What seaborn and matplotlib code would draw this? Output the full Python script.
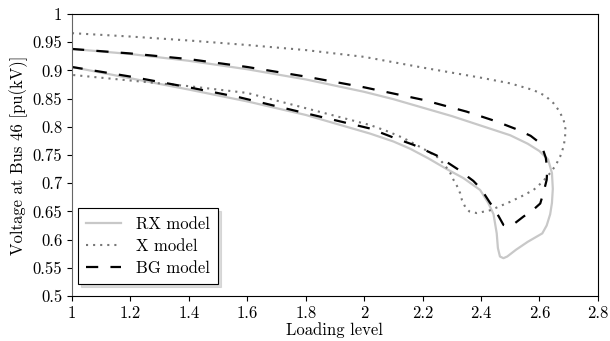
import numpy as np
import pandas as pd
import seaborn as sns
from matplotlib import pyplot as plt
from matplotlib.ticker import FormatStrFormatter

# PV (nose) curves: upper branch -> nose -> lower branch
rx_load = [1.0, 1.2, 1.4, 1.6, 1.8, 2.0, 2.1, 2.2, 2.3, 2.4, 2.5, 2.56, 2.6, 2.63,
           2.643, 2.646, 2.643, 2.637, 2.625, 2.61, 2.56, 2.52, 2.49, 2.477, 2.465,
           2.458, 2.454, 2.443, 2.425, 2.397, 2.34, 2.283, 2.22, 2.158, 2.1, 2.02,
           1.9, 1.8, 1.6, 1.4, 1.2, 1.0]
rx_volt = [0.938, 0.929, 0.917, 0.902, 0.884, 0.862, 0.849, 0.834, 0.819, 0.802, 0.785, 0.770, 0.757, 0.742,
           0.718, 0.690, 0.665, 0.645, 0.625, 0.611, 0.596, 0.582, 0.570, 0.567, 0.570,
           0.585, 0.611, 0.645, 0.665, 0.688, 0.709, 0.725, 0.744, 0.761, 0.774, 0.788,
           0.806, 0.821, 0.845, 0.866, 0.886, 0.906]

x_load = [1.0, 1.2, 1.4, 1.6, 1.8, 2.0, 2.2, 2.4, 2.5, 2.58, 2.62, 2.648, 2.668, 2.683,
          2.689, 2.688, 2.683, 2.671, 2.655, 2.637, 2.61, 2.58, 2.54, 2.5, 2.432, 2.386,
          2.36, 2.346, 2.335, 2.329, 2.318, 2.306, 2.295, 2.275, 2.249, 2.2, 2.135, 2.08,
          2.021, 1.8, 1.6, 1.4, 1.2, 1.0]
x_volt = [0.966, 0.960, 0.953, 0.945, 0.936, 0.924, 0.905, 0.887, 0.877, 0.865, 0.855, 0.842, 0.828, 0.812,
          0.797, 0.782, 0.765, 0.747, 0.731, 0.718, 0.702, 0.688, 0.677, 0.667, 0.652, 0.647,
          0.650, 0.658, 0.670, 0.682, 0.695, 0.706, 0.718, 0.733, 0.747, 0.762, 0.780, 0.792,
          0.803, 0.833, 0.860, 0.872, 0.882, 0.892]

bg_load = [1.0, 1.2, 1.4, 1.6, 1.8, 2.0, 2.2, 2.35, 2.45, 2.52, 2.57, 2.595, 2.612, 2.622,
           2.627, 2.625, 2.615, 2.603, 2.575, 2.546, 2.511, 2.49, 2.477, 2.462, 2.445, 2.43,
           2.40, 2.374, 2.32, 2.249, 2.169, 2.10, 2.02, 1.8, 1.575, 1.4, 1.2, 1.0]
bg_volt = [0.938, 0.930, 0.920, 0.906, 0.889, 0.870, 0.848, 0.827, 0.810, 0.796, 0.784, 0.774, 0.760, 0.745,
           0.725, 0.706, 0.685, 0.664, 0.651, 0.641, 0.627, 0.624, 0.626, 0.640, 0.655, 0.666,
           0.690, 0.704, 0.725, 0.749, 0.768, 0.781, 0.797, 0.824, 0.852, 0.870, 0.889, 0.906]

plt.rcParams['font.family'] = 'serif'
plt.rcParams['font.serif'] = ['cmr10']
plt.rcParams['axes.formatter.use_mathtext'] = True
plt.rcParams['font.size'] = 12

fig = plt.figure(figsize=(6.1, 3.41), dpi=100)
ax = fig.add_axes([0.118, 0.132, 0.862, 0.827])

sns.lineplot(x=rx_load, y=rx_volt, sort=False, estimator=None, ax=ax,
             color='#c8c8c8', lw=1.6, label='RX model')
sns.lineplot(x=x_load, y=x_volt, sort=False, estimator=None, ax=ax,
             color='#777777', lw=1.5, linestyle=(0, (1, 2.4)), label='X model')
sns.lineplot(x=bg_load, y=bg_volt, sort=False, estimator=None, ax=ax,
             color='black', lw=1.6, linestyle=(0, (5.5, 5.5)), label='BG model')

ax.set_xlim(1, 2.8)
ax.set_ylim(0.5, 1)
ax.set_xticks(np.arange(1, 2.81, 0.2))
ax.set_yticks(np.arange(0.5, 1.001, 0.05))
ax.xaxis.set_major_formatter(FormatStrFormatter('%g'))
ax.yaxis.set_major_formatter(FormatStrFormatter('%g'))
ax.set_xlabel('Loading level', labelpad=1)
ax.set_ylabel('Voltage at Bus 46 [pu(kV)]', labelpad=3)
ax.spines['left'].set_color('0.4')

leg = ax.legend(loc='lower left', bbox_to_anchor=(0.011, 0.043), borderaxespad=0,
                fancybox=False, shadow={'color': '0.8', 'alpha': 0.7},
                edgecolor='black', framealpha=1,
                handlelength=2.1, handletextpad=0.9, labelspacing=0.4, borderpad=0.5)
leg.get_frame().set_linewidth(0.8)

fig.savefig('out.png', dpi=100)
